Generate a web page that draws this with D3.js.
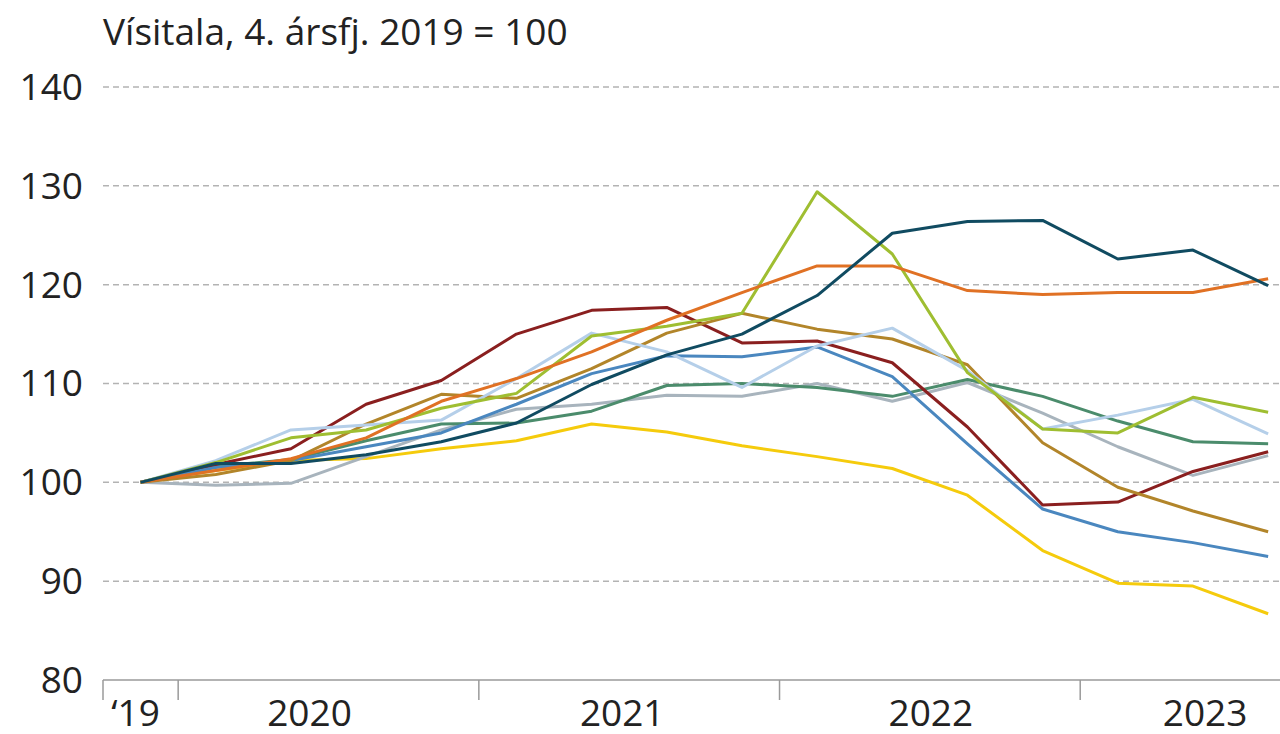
<!DOCTYPE html>
<html>
<head>
<meta charset="utf-8">
<script src="https://cdn.jsdelivr.net/npm/d3@7"></script>
<style>
  body { margin: 0; background: #fff; }
  svg { display: block; font-family: "Open Sans", "Noto Sans", sans-serif; }
</style>
</head>
<body>
<svg id="chart" width="1280" height="734"></svg>
<script>
// ársfjórðungar, 4. ársfj. 2019 til 3. ársfj. 2023
const quarters = ["2019Q4",
  "2020Q1", "2020Q2", "2020Q3", "2020Q4",
  "2021Q1", "2021Q2", "2021Q3", "2021Q4",
  "2022Q1", "2022Q2", "2022Q3", "2022Q4",
  "2023Q1", "2023Q2", "2023Q3"];
const yearLabels = ["‘19", "2020", "2021", "2022", "2023"];
const yTicks = [80, 90, 100, 110, 120, 130, 140];

const seriesTeal     = [100, 101.9, 101.9, 102.8, 104.1, 106.0, 109.9, 112.9, 115.0, 118.9, 125.2, 126.4, 126.5, 122.6, 123.5, 119.9];
const seriesOrange   = [100, 101.2, 102.4, 104.5, 108.2, 110.5, 113.2, 116.4, 119.2, 121.9, 121.9, 119.4, 119.0, 119.2, 119.2, 120.6];
const seriesLime     = [100, 102.0, 104.5, 105.3, 107.5, 109.0, 114.8, 115.8, 117.1, 129.4, 123.1, 111.1, 105.4, 105.0, 108.6, 107.1];
const seriesLightBlue= [100, 102.2, 105.3, 105.8, 106.3, 110.5, 115.1, 113.2, 109.6, 113.8, 115.6, 111.3, 105.4, 106.8, 108.4, 104.9];
const seriesBrown    = [100, 100.8, 102.2, 105.9, 108.9, 108.5, 111.5, 115.1, 117.1, 115.5, 114.5, 111.9, 104.0, 99.5, 97.1, 95.0];
const seriesBlue     = [100, 101.5, 102.2, 103.6, 105.0, 107.9, 111.0, 112.8, 112.7, 113.7, 110.7, 103.9, 97.3, 95.0, 93.9, 92.5];
const seriesRed      = [100, 101.8, 103.4, 107.9, 110.3, 115.0, 117.4, 117.7, 114.1, 114.3, 112.1, 105.6, 97.7, 98.0, 101.1, 103.1];
const seriesGreen    = [100, 101.6, 102.3, 104.2, 105.9, 106.0, 107.2, 109.8, 110.0, 109.6, 108.7, 110.4, 108.7, 106.2, 104.1, 103.9];
const seriesGray     = [100, 99.7, 99.9, 102.6, 105.3, 107.4, 107.9, 108.8, 108.7, 110.0, 108.2, 110.1, 107.0, 103.6, 100.7, 102.7];
const seriesYellow   = [100, 101.2, 102.2, 102.4, 103.4, 104.2, 105.9, 105.1, 103.7, 102.6, 101.4, 98.7, 93.1, 89.8, 89.5, 86.7];

// teiknuð í þessari röð (síðasta efst)
const series = [
  { values: seriesYellow, color: "#f5cb0c" },
  { values: seriesGray, color: "#a8b4bd" },
  { values: seriesGreen, color: "#4b8c6c" },
  { values: seriesRed, color: "#8a1f1f" },
  { values: seriesBlue, color: "#4a87bf" },
  { values: seriesBrown, color: "#b2852a" },
  { values: seriesLightBlue, color: "#b5cfe9" },
  { values: seriesLime, color: "#9fbe31" },
  { values: seriesOrange, color: "#e07124" },
  { values: seriesTeal, color: "#104b61" }
];

const svg = d3.select("#chart");
const width = 1280;
const left = 103, step = 75.17;
const fontSize = 37;
// hliðrun ártala miðað við miðju ársins (eins og í fyrirmynd)
const yearLabelShift = [-5, -19, -7, 1, 25];

const x = d3.scaleBand().domain(quarters).range([left, left + step * quarters.length]).padding(0);
const y = d3.scaleLinear().domain([80, 140]).range([680, 87]);
const cx = q => x(q) + x.bandwidth() / 2;

// titill
svg.append("text")
  .attr("x", left)
  .attr("y", 45)
  .attr("font-size", fontSize)
  .attr("fill", "#222")
  .text("Vísitala, 4. ársfj. 2019 = 100");

// hnitalínur
svg.append("g").selectAll("line")
  .data(yTicks.filter(d => d > 80))
  .enter().append("line")
  .attr("x1", left).attr("x2", width)
  .attr("y1", d => y(d)).attr("y2", d => y(d))
  .attr("stroke", "#b3b3b3")
  .attr("stroke-width", 1.5)
  .attr("stroke-dasharray", "6,4");

svg.append("g").selectAll("text")
  .data(yTicks)
  .enter().append("text")
  .attr("x", 83)
  .attr("y", d => y(d))
  .attr("dy", "0.35em")
  .attr("text-anchor", "end")
  .attr("font-size", fontSize)
  .attr("fill", "#222")
  .text(d => d);

// x-ás
const xAxis = svg.append("g");
xAxis.append("line")
  .attr("x1", left).attr("x2", width)
  .attr("y1", y(80)).attr("y2", y(80))
  .attr("stroke", "#9a9a9a").attr("stroke-width", 1.5);

const yearStarts = quarters.filter((q, i) => i === 0 || q.endsWith("Q1"));
xAxis.selectAll(".tick")
  .data(yearStarts)
  .enter().append("line")
  .attr("x1", d => x(d)).attr("x2", d => x(d))
  .attr("y1", y(80)).attr("y2", y(80) + 20)
  .attr("stroke", "#9a9a9a").attr("stroke-width", 1.5);

const yearCenters = yearStarts.map(s => {
  const yr = s.slice(0, 4);
  const qs = quarters.filter(q => q.startsWith(yr));
  const a = x(qs[0]), b = Math.min(x(qs[qs.length - 1]) + x.bandwidth(), width);
  return (a + b) / 2;
});

xAxis.selectAll("text")
  .data(yearLabels)
  .enter().append("text")
  .attr("x", (d, i) => yearCenters[i] + yearLabelShift[i])
  .attr("y", 726)
  .attr("text-anchor", "middle")
  .attr("font-size", fontSize)
  .attr("fill", "#222")
  .text(d => d);

// línur
const line = d3.line()
  .x((d, i) => cx(quarters[i]))
  .y(d => y(d));

svg.append("g").selectAll("path")
  .data(series)
  .enter().append("path")
  .attr("d", d => line(d.values))
  .attr("fill", "none")
  .attr("stroke", d => d.color)
  .attr("stroke-width", 3)
  .attr("stroke-linejoin", "round");
</script>
</body>
</html>
